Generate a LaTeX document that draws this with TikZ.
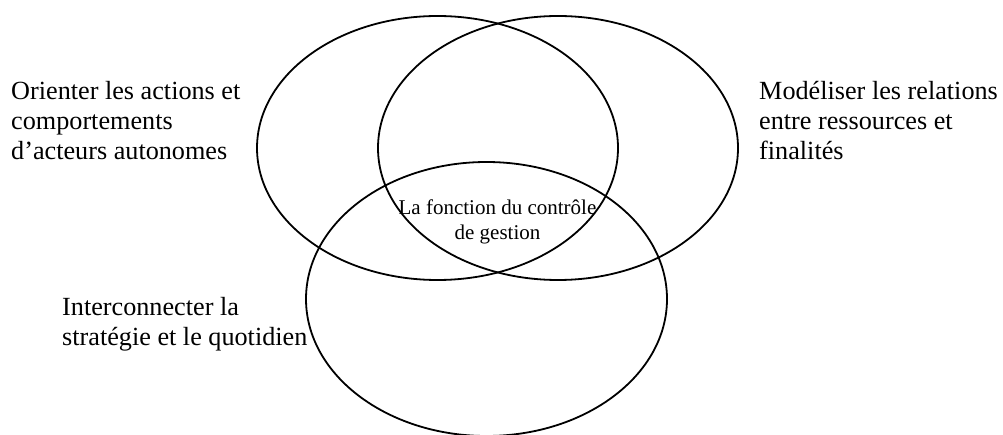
\documentclass[tikz,border=0pt]{standalone}
\usepackage{fontspec}
\setmainfont{Liberation Serif}
\begin{document}
\begin{tikzpicture}[x=1pt,y=-1pt,
  ell/.style={draw=black, line width=1.8pt},
  lbl/.style={font=\fontsize{26.2}{30}\selectfont, anchor=base west, inner sep=0pt, align=left},
  ctr/.style={font=\fontsize{21}{25}\selectfont, anchor=base, inner sep=0pt, align=center}]
\useasboundingbox (0,0) rectangle (1003,435);
\begin{scope}
  \clip (0,0) rectangle (1003,435);
  \draw[ell] (437.5,148) ellipse [x radius=180.5pt, y radius=132pt];
  \draw[ell] (558,148) ellipse [x radius=180pt, y radius=132pt];
  \draw[ell] (486.5,299) ellipse [x radius=180.5pt, y radius=137pt];
\end{scope}
\node[lbl] (orient) at (11,160) {Orienter les actions et\\comportements\\d’acteurs autonomes};
\node[lbl] (model) at (759,160) {Modéliser les relations\\entre ressources et\\finalités};
\node[lbl] (inter) at (62,345) {Interconnecter la\\stratégie et le quotidien};
\node[ctr] (fonction) at (497.5,240) {La fonction du contrôle\\de gestion};
\end{tikzpicture}
\end{document}
